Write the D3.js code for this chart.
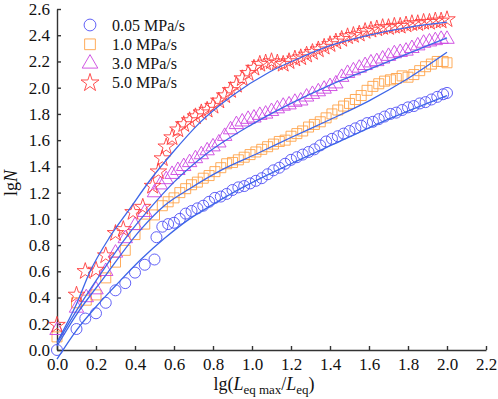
<!DOCTYPE html>
<html>
<head>
<script src="https://d3js.org/d3.v7.min.js"></script>
<style>
  body { margin: 0; background: #fff; }
  svg text { font-family: "Liberation Serif", "Times New Roman", serif; fill: #111; }
</style>
</head>
<body>
<script>
    var w = 498, h = 399;

    // series names
    var seriesNames = ['0.05 MPa/s', '1.0 MPa/s', '3.0 MPa/s', '5.0 MPa/s'];

    // measured points [lg(Leqmax/Leq), lgN]
    var circleData = [[0,0.0],[0.1,0.16],[0.145,0.24],[0.2,0.28],[0.25,0.36],[0.3,0.455],[0.35,0.51],[0.4,0.59],[0.45,0.65],[0.5,0.69],
        [0.51,0.86],[0.54,0.94],[0.57,0.96],[0.6,0.97],[0.63,1.0],[0.66,1.04],[0.69,1.06],[0.72,1.08],[0.75,1.1],[0.78,1.13],
        [0.81,1.16],[0.84,1.17],[0.87,1.19],[0.9,1.22],[0.93,1.24],[0.96,1.25],[0.99,1.27],[1.02,1.29],[1.05,1.31],[1.08,1.34],
        [1.11,1.37],[1.14,1.39],[1.17,1.42],[1.2,1.45],[1.23,1.47],[1.26,1.49],[1.29,1.51],[1.32,1.53],[1.35,1.56],[1.38,1.59],
        [1.41,1.61],[1.44,1.63],[1.47,1.65],[1.5,1.67],[1.53,1.69],[1.56,1.71],[1.59,1.73],[1.62,1.74],[1.65,1.76],[1.68,1.78],
        [1.71,1.8],[1.74,1.81],[1.77,1.83],[1.8,1.85],[1.83,1.86],[1.86,1.88],[1.89,1.89],[1.92,1.91],[1.95,1.93],[1.98,1.95],[2.0,1.96]];
    var squareData = [[0,0.1],[0.1,0.36],[0.15,0.38],[0.2,0.42],[0.25,0.55],[0.3,0.67],[0.35,0.76],[0.4,0.88],[0.45,0.96],[0.5,1.03],
        [0.54,1.1],[0.57,1.13],[0.6,1.16],[0.63,1.2],[0.66,1.23],[0.69,1.26],[0.72,1.28],[0.75,1.31],[0.78,1.33],[0.81,1.36],
        [0.84,1.39],[0.87,1.42],[0.9,1.43],[0.93,1.45],[0.96,1.47],[0.99,1.49],[1.02,1.51],[1.05,1.53],[1.08,1.55],[1.11,1.57],
        [1.14,1.59],[1.17,1.6],[1.2,1.63],[1.23,1.65],[1.26,1.67],[1.29,1.7],[1.32,1.72],[1.35,1.74],[1.38,1.77],[1.41,1.8],
        [1.44,1.83],[1.47,1.86],[1.5,1.88],[1.53,1.91],[1.56,1.94],[1.59,1.98],[1.62,2.01],[1.65,2.03],[1.68,2.05],[1.71,2.06],
        [1.74,2.07],[1.77,2.09],[1.8,2.08],[1.83,2.1],[1.86,2.13],[1.89,2.16],[1.92,2.18],[1.95,2.2],[1.98,2.2],[2.0,2.19]];
    var triangleData = [[0,0.15],[0.1,0.32],[0.15,0.4],[0.2,0.46],[0.25,0.6],[0.3,0.74],[0.35,0.85],[0.4,0.95],[0.45,1.05],[0.5,1.2],
        [0.53,1.26],[0.56,1.3],[0.59,1.34],[0.62,1.37],[0.65,1.4],[0.68,1.43],[0.71,1.46],[0.74,1.49],[0.77,1.52],[0.8,1.55],
        [0.83,1.58],[0.86,1.63],[0.89,1.68],[0.92,1.72],[0.95,1.74],[0.98,1.76],[1.01,1.77],[1.04,1.79],[1.07,1.8],[1.1,1.82],
        [1.13,1.84],[1.16,1.86],[1.19,1.87],[1.22,1.89],[1.25,1.9],[1.28,1.93],[1.31,1.95],[1.34,1.97],[1.37,1.99],[1.4,2.01],
        [1.43,2.03],[1.46,2.08],[1.49,2.11],[1.52,2.13],[1.55,2.15],[1.58,2.17],[1.61,2.19],[1.64,2.2],[1.67,2.22],[1.7,2.24],
        [1.73,2.26],[1.76,2.27],[1.79,2.28],[1.82,2.3],[1.85,2.32],[1.88,2.34],[1.91,2.35],[1.94,2.36],[1.97,2.37],[2.0,2.37]];
    var starData = [[0,0.19],[0.1,0.42],[0.145,0.6],[0.2,0.61],[0.25,0.72],[0.3,0.89],[0.34,0.92],[0.39,1.05],[0.44,1.09],[0.49,1.25],
        [0.52,1.36],[0.54,1.46],[0.56,1.55],[0.59,1.62],[0.62,1.68],[0.65,1.72],[0.68,1.75],[0.71,1.78],[0.74,1.81],[0.77,1.83],
        [0.8,1.86],[0.83,1.9],[0.86,1.94],[0.89,1.98],[0.92,2.02],[0.95,2.07],[0.98,2.11],[1.01,2.15],[1.04,2.18],[1.07,2.19],
        [1.1,2.2],[1.13,2.19],[1.16,2.18],[1.19,2.2],[1.22,2.22],[1.25,2.23],[1.28,2.25],[1.31,2.27],[1.34,2.29],[1.37,2.31],
        [1.4,2.33],[1.43,2.35],[1.46,2.37],[1.49,2.39],[1.52,2.4],[1.55,2.41],[1.58,2.43],[1.61,2.44],[1.64,2.45],[1.67,2.46],
        [1.7,2.46],[1.73,2.47],[1.76,2.47],[1.79,2.48],[1.82,2.49],[1.85,2.49],[1.88,2.5],[1.91,2.5],[1.94,2.51],[1.97,2.51],[2.0,2.52]];

    // fitted curves
    var circleFit = [[0,-0.07],[0.1,0.15],[0.2,0.33],[0.3,0.49],[0.43,0.69],[0.55,0.85],[0.68,1.0],[0.8,1.11],[0.94,1.23],
        [1.2,1.42],[1.45,1.59],[1.7,1.76],[2.0,1.94]];
    var squareFit = [[0,0.03],[0.1,0.27],[0.24,0.55],[0.43,0.92],[0.55,1.1],[0.68,1.23],[0.84,1.37],[1.03,1.5],[1.2,1.62],
        [1.39,1.75],[1.6,1.9],[1.8,2.07],[2.0,2.27]];
    var triangleFit = [[0,0.05],[0.1,0.3],[0.21,0.55],[0.35,0.85],[0.5,1.12],[0.6,1.28],[0.77,1.5],[1.0,1.72],[1.2,1.88],
        [1.4,2.02],[1.6,2.14],[1.8,2.26],[2.0,2.38]];
    var starFit = [[0,0.06],[0.1,0.35],[0.17,0.6],[0.27,0.86],[0.37,1.07],[0.48,1.3],[0.59,1.5],[0.73,1.73],[0.9,1.94],
        [1.09,2.12],[1.25,2.23],[1.4,2.32],[1.6,2.4],[1.8,2.46],[2.0,2.5]];

    var xTicks = [0, 0.2, 0.4, 0.6, 0.8, 1.0, 1.2, 1.4, 1.6, 1.8, 2.0, 2.2];
    var yTicks = [0, 0.2, 0.4, 0.6, 0.8, 1.0, 1.2, 1.4, 1.6, 1.8, 2.0, 2.2, 2.4, 2.6];

    var margin = {left: 57, top: 9, right: 12, bottom: 49};

    var xScale = d3.scaleLinear().domain([0, 2.2]).range([margin.left, w - margin.right]);
    var yScale = d3.scaleLinear().domain([0, 2.6]).range([h - margin.bottom, margin.top]);

    var svg = d3.select('body').append('svg').attr('width', w).attr('height', h);

    var series = [
        {name: seriesNames[0], data: circleData, fit: circleFit, symbol: d3.symbolCircle, size: 95, color: '#4f4ff5'},
        {name: seriesNames[1], data: squareData, fit: squareFit, symbol: d3.symbolSquare, size: 100, color: '#ffa348'},
        {name: seriesNames[2], data: triangleData, fit: triangleFit, symbol: d3.symbolTriangle, size: 90, color: '#cc44e0'},
        {name: seriesNames[3], data: starData, fit: starFit, symbol: d3.symbolStar, size: 85, color: '#ff3c3c'}
    ];

    // axes
    var xAxis = d3.axisBottom(xScale).tickValues(xTicks).tickFormat(d3.format('.1f')).tickSizeInner(-4).tickSizeOuter(0).tickPadding(8);
    var yAxis = d3.axisLeft(yScale).tickValues(yTicks).tickFormat(d3.format('.1f')).tickSizeInner(-4).tickSizeOuter(0).tickPadding(7);

    var gx = svg.append('g').attr('transform', 'translate(0,' + (h - margin.bottom) + ')').call(xAxis);
    var gy = svg.append('g').attr('transform', 'translate(' + margin.left + ',0)').call(yAxis);
    [gx, gy].forEach(function(g){
        g.selectAll('path, line').attr('stroke', '#333').attr('stroke-width', 1.4);
        g.selectAll('text').style('font-size', '17px').attr('fill', '#111');
    });

    // markers
    series.forEach(function(s){
        svg.append('g').selectAll('path')
            .data(s.data)
            .join('path')
            .attr('d', d3.symbol().type(s.symbol).size(s.size))
            .attr('transform', function(d){ return 'translate(' + xScale(d[0]) + ',' + yScale(d[1]) + ')' })
            .attr('fill', 'none')
            .attr('stroke', s.color)
            .attr('stroke-width', 0.9);
    });

    // fitted lines
    var lineFunc = d3.line()
        .x(function(d){ return xScale(d[0]) })
        .y(function(d){ return yScale(d[1]) })
        .curve(d3.curveMonotoneX);

    series.forEach(function(s){
        svg.append('path')
            .attr('d', lineFunc(s.fit))
            .attr('fill', 'none')
            .attr('stroke', '#3d66e8')
            .attr('stroke-width', 1.3);
    });

    // legend
    var legend = svg.append('g');
    series.forEach(function(s, i){
        var y = 25 + i * 19.3;
        legend.append('path')
            .attr('d', d3.symbol().type(s.symbol).size(s.size + 15))
            .attr('transform', 'translate(90,' + y + ')')
            .attr('fill', 'none')
            .attr('stroke', s.color)
            .attr('stroke-width', 0.9);
        legend.append('text')
            .attr('x', 112).attr('y', y + 5.5)
            .style('font-size', '16px')
            .text(s.name);
    });

    // axis titles
    var yl = svg.append('text')
        .attr('transform', 'translate(17,' + 183 + ') rotate(-90)')
        .attr('text-anchor', 'middle')
        .style('font-size', '18px');
    yl.append('tspan').text('lg');
    yl.append('tspan').style('font-style', 'italic').text('N');

    var xl = svg.append('text')
        .attr('x', 264).attr('y', 390)
        .attr('text-anchor', 'middle')
        .style('font-size', '18px');
    xl.append('tspan').text('lg(');
    xl.append('tspan').style('font-style', 'italic').text('L');
    xl.append('tspan').attr('dy', 4).style('font-size', '13px').text('eq max');
    xl.append('tspan').attr('dy', -4).text('/');
    xl.append('tspan').style('font-style', 'italic').text('L');
    xl.append('tspan').attr('dy', 4).style('font-size', '13px').text('eq');
    xl.append('tspan').attr('dy', -4).text(')');
</script>
</body>
</html>
